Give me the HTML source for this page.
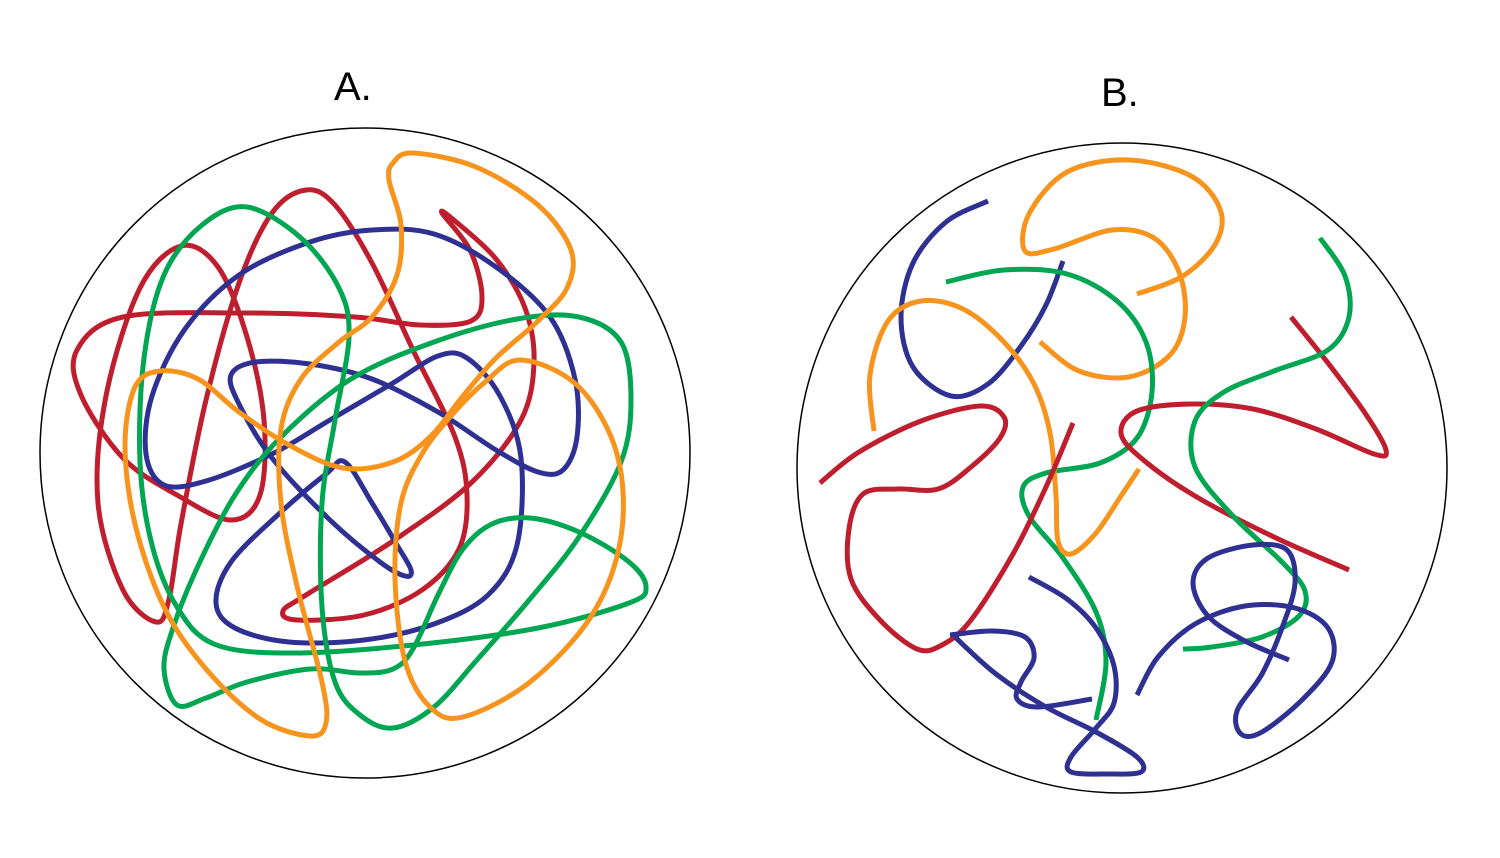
<!DOCTYPE html>
<html><head><meta charset="utf-8"><style>
html,body{margin:0;padding:0;background:#fff;}
svg{display:block}
text{font-family:"Liberation Sans",sans-serif;font-size:40px;fill:#000}
</style></head><body>
<svg id="s" width="1500" height="858" viewBox="0 0 1500 858" xmlns="http://www.w3.org/2000/svg">
<text x="334" y="100">A.</text>
<text x="1101" y="106">B.</text>
<circle cx="365" cy="453" r="325" fill="none" stroke="#000" stroke-width="1.5"/>
<circle cx="1122" cy="468" r="325" fill="none" stroke="#000" stroke-width="1.5"/>
<g id="g" fill="none" stroke-width="5" stroke-linecap="butt" stroke-linejoin="round"></g>
</svg>
<script>
var R="#BE1E2D",B="#2E3192",G="#00A651",O="#F7941D";
var curves=[
[R,1,[442,213,470,250,482,296,471,321,420,325,355,317,247,313,123,317,77,350,81,395,123,458,177,495,231,520,260,495,264,420,247,337,218,267,181,246,140,288,106,396,98,503,123,590,156,622,169,599,181,524,206,400,239,283,272,213,306,190,335,205,372,263,413,350,455,437,467,495,459,549,422,590,364,615,297,620,283,611,306,595,393,541,471,483,521,420,534,362,525,308,496,259,455,221]],
[B,1,[345,462,372,503,397,545,411,570,405,576,380,562,330,520,272,458,239,404,231,375,256,362,310,364,372,379,438,412,496,450,538,472,563,470,577,437,575,379,550,317,496,267,434,234,372,230,310,242,239,275,185,329,152,396,146,454,164,485,206,481,272,454,330,420,393,383,438,356,467,358,500,396,521,458,517,545,488,595,434,624,364,640,289,642,235,628,216,603,231,562,281,512,326,474]],
[G,1,[177,705,164,669,173,628,198,566,235,495,281,437,351,379,434,342,517,319,579,317,621,342,631,400,621,462,579,537,530,599,476,661,434,707,393,728,360,715,335,682,322,607,322,503,335,420,349,337,339,288,301,238,247,207,202,225,164,275,144,358,140,462,152,545,177,607,214,644,289,653,413,645,538,628,629,603,646,587,629,562,579,532,530,518,492,524,463,549,438,595,413,649,393,669,360,673,310,669,247,682,206,698]],
[O,1,[393,163,413,153,476,167,538,205,571,250,567,288,538,321,496,358,463,396,430,437,393,462,343,468,289,445,239,412,198,379,160,371,135,387,125,445,135,524,164,607,206,669,260,719,310,736,326,723,322,682,297,586,281,503,281,429,301,379,339,342,372,317,397,275,401,225,389,180]],
[O,1,[521,360,579,387,617,454,621,537,592,615,530,682,463,717,430,707,405,661,395,578,401,503,422,454,451,416,484,383]],
[B,0,[988,201,946,222,913,263,901,317,913,367,951,396,988,384,1021,346,1046,305,1063,261]],
[O,0,[1137,294,1183,276,1216,243,1220,209,1191,176,1129,160,1067,172,1029,214,1025,251,1054,249,1112,230,1154,238,1179,272,1185,317,1170,355,1129,377,1079,371,1040,342]],
[G,0,[946,282,1004,270,1067,274,1117,301,1146,342,1152,392,1137,438,1100,463,1046,473,1023,487,1029,516,1063,558,1096,612,1106,662,1096,720]],
[O,0,[874,431,870,375,888,321,921,301,963,309,1004,342,1034,384,1050,433,1056,496,1058,541,1071,554,1096,533,1121,496,1139,469]],
[R,0,[820,483,859,452,921,421,980,406,1004,417,1000,438,971,467,938,489,897,489,863,494,849,529,851,579,880,620,917,649,942,645,971,620,1013,554,1046,487,1073,423]],
[R,0,[1291,317,1328,363,1365,413,1386,450,1374,454,1316,429,1253,409,1191,404,1137,411,1121,433,1141,458,1195,496,1274,537,1349,570]],
[G,0,[1320,238,1345,276,1349,317,1328,350,1274,371,1224,392,1195,421,1195,467,1233,516,1282,562,1305,591,1299,616,1262,637,1212,647,1183,649]],
[B,0,[1289,660,1245,641,1208,616,1193,583,1208,558,1253,545,1287,550,1295,583,1282,628,1262,674,1237,711,1241,734,1262,732,1303,699,1332,662,1328,628,1295,608,1245,606,1195,624,1158,657,1137,695]],
[B,0,[950,635,992,631,1025,637,1034,658,1021,682,1017,699,1038,707,1092,699]],
[B,0,[955,637,996,674,1046,707,1096,732,1137,757,1141,772,1108,774,1071,772,1071,757,1096,728,1114,703,1114,666,1096,628,1067,599,1029,577]]
];
function pathD(a,closed){
  var p=[];for(var i=0;i<a.length;i+=2)p.push([a[i],a[i+1]]);
  var n=p.length,d="M"+p[0][0]+","+p[0][1];
  var segs=closed?n:n-1;
  function P(i){ if(closed) return p[(i+n)%n]; return p[Math.max(0,Math.min(n-1,i))]; }
  for(var i=0;i<segs;i++){
    var p0=P(i-1),p1=P(i),p2=P(i+1),p3=P(i+2);
    var c1=[p1[0]+(p2[0]-p0[0])/6,p1[1]+(p2[1]-p0[1])/6];
    var c2=[p2[0]-(p3[0]-p1[0])/6,p2[1]-(p3[1]-p1[1])/6];
    d+="C"+c1[0].toFixed(1)+","+c1[1].toFixed(1)+" "+c2[0].toFixed(1)+","+c2[1].toFixed(1)+" "+p2[0]+","+p2[1];
  }
  if(closed)d+="Z";
  return d;
}
var g=document.getElementById("g");
curves.forEach(function(c){
  var e=document.createElementNS("http://www.w3.org/2000/svg","path");
  e.setAttribute("d",pathD(c[2],c[1]));
  e.setAttribute("stroke",c[0]);
  g.appendChild(e);
});
</script>
</body></html>
